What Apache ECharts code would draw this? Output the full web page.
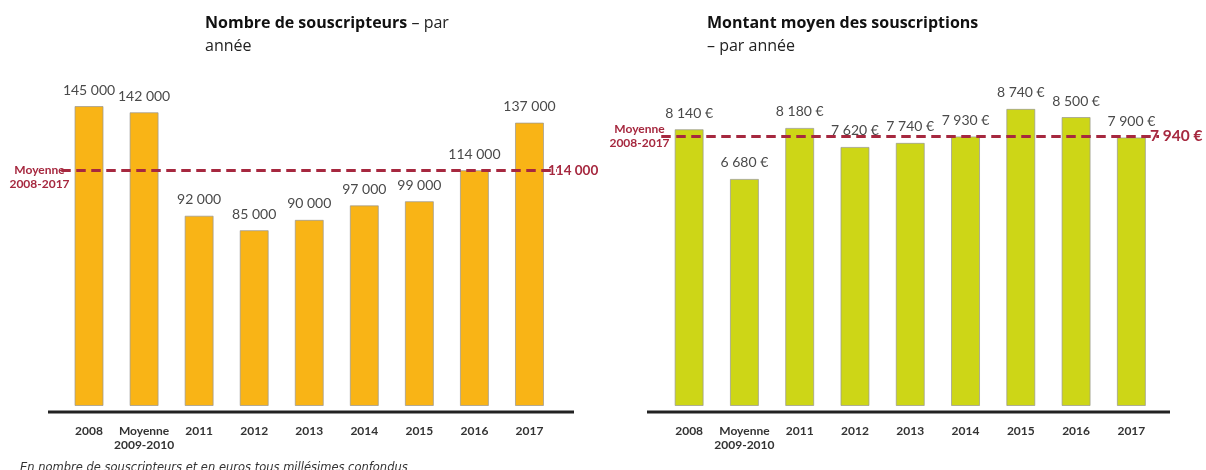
<!DOCTYPE html>
<html>
<head>
<meta charset="utf-8">
<script src="https://cdn.jsdelivr.net/npm/echarts@6/dist/echarts.min.js"></script>
<style>html,body{margin:0;padding:0;background:#fff}#c{width:1206px;height:470px}</style>
</head>
<body>
<div id="c"></div>
<script>
const categories = ['2008', 'Moyenne\n2009-2010', '2011', '2012', '2013', '2014', '2015', '2016', '2017'];
const souscripteurs = [145000, 142000, 92000, 85000, 90000, 97000, 99000, 114000, 137000];
const montants = [8140, 6680, 8180, 7620, 7740, 7930, 8740, 8500, 7900];
const moyenneSouscripteurs = 114000;
const moyenneMontant = 7940;
const titreGauche = ['Nombre de souscripteurs', ' – par', 'année'];
const titreDroite = ['Montant moyen des souscriptions', '– par année'];
const moyenneLabel = 'Moyenne\n2008-2017';
const note = 'En nombre de souscripteurs et en euros tous millésimes confondus';

const FONT = 'Lato';
const TFONT = 'Open Sans';
const RED = '#a6283f';
const fmtNum = v => String(v).replace(/\B(?=(\d{3})+(?!\d))/g, ' ');

const chart = echarts.init(document.getElementById('c'), null, {renderer: 'canvas'});

function xAxisCfg(gi) {
  return {
    type: 'category', gridIndex: gi, data: categories,
    axisLine: {show: false}, axisTick: {show: false},
    axisLabel: {interval: 0, margin: 18, fontFamily: FONT, fontWeight: 'bold', fontSize: 12, lineHeight: 14, color: '#333'}
  };
}
function yAxisCfg(gi, max) {
  return {type: 'value', gridIndex: gi, min: 0, max: max, show: false, splitLine: {show: false}};
}
function markLineCfg(val, endText, endSize, dy) {
  return {
    silent: true, symbol: 'none',
    lineStyle: {color: RED, width: 3, type: [9, 6]},
    data: [
      {yAxis: val, label: {show: true, position: 'start', distance: -6, formatter: moyenneLabel,
        align: 'center', offset: [-28, dy],
        fontFamily: FONT, fontWeight: 'bold', fontSize: 12, lineHeight: 14, color: RED}},
      {yAxis: val, label: {show: true, position: 'end', distance: -9, formatter: endText,
        fontFamily: FONT, fontWeight: 'bold', fontSize: endSize, color: RED}}
    ]
  };
}

const titleRich = {
  b: {fontFamily: TFONT, fontWeight: 'bold', fontSize: 16, color: '#111', lineHeight: 23},
  n: {fontFamily: TFONT, fontWeight: 'normal', fontSize: 16, color: '#222', lineHeight: 23}
};

const option = {
  animation: false,
  backgroundColor: '#fff',
  title: [
    {left: 200, top: 7, text: '{b|' + titreGauche[0] + '}{n|' + titreGauche[1] + '}\n{n|' + titreGauche[2] + '}',
      textStyle: {rich: titleRich}},
    {left: 702, top: 7, text: '{b|' + titreDroite[0] + '}\n{n|' + titreDroite[1] + '}',
      textStyle: {rich: titleRich}},
    {left: 15, top: 457, text: note,
      textStyle: {fontFamily: 'DejaVu Sans', fontStyle: 'italic', fontWeight: 'normal', fontSize: 11.5, color: '#333'}}
  ],
  grid: [
    {left: 61.5, width: 495.5, bottom: 64, height: 331},
    {left: 661.5, width: 497.5, bottom: 64, height: 340}
  ],
  xAxis: [xAxisCfg(0), xAxisCfg(1)],
  yAxis: [yAxisCfg(0, 160000), yAxisCfg(1, 10000)],
  graphic: [
    {type: 'line', shape: {x1: 48, y1: 412, x2: 574, y2: 412}, style: {stroke: '#222', lineWidth: 3}},
    {type: 'line', shape: {x1: 647, y1: 412, x2: 1170, y2: 412}, style: {stroke: '#222', lineWidth: 3}}
  ],
  series: [
    {
      type: 'bar', xAxisIndex: 0, yAxisIndex: 0, data: souscripteurs, barWidth: 29,
      itemStyle: {color: '#f9b416', borderColor: 'rgba(150,150,150,0.7)', borderWidth: 1},
      label: {show: true, position: 'top', distance: 9, formatter: p => fmtNum(p.value),
        fontFamily: FONT, fontSize: 14, color: '#4a4a4a'},
      markLine: markLineCfg(moyenneSouscripteurs, fmtNum(moyenneSouscripteurs), 13.5, 7)
    },
    {
      type: 'bar', xAxisIndex: 1, yAxisIndex: 1, data: montants, barWidth: 29,
      itemStyle: {color: '#cdd617', borderColor: 'rgba(150,150,150,0.7)', borderWidth: 1},
      label: {show: true, position: 'top', distance: 9, formatter: p => fmtNum(p.value) + ' €',
        fontFamily: FONT, fontSize: 14, color: '#4a4a4a'},
      markLine: markLineCfg(moyenneMontant, fmtNum(moyenneMontant) + ' €', 15.5, 0)
    }
  ]
};
chart.setOption(option);
</script>
</body>
</html>
